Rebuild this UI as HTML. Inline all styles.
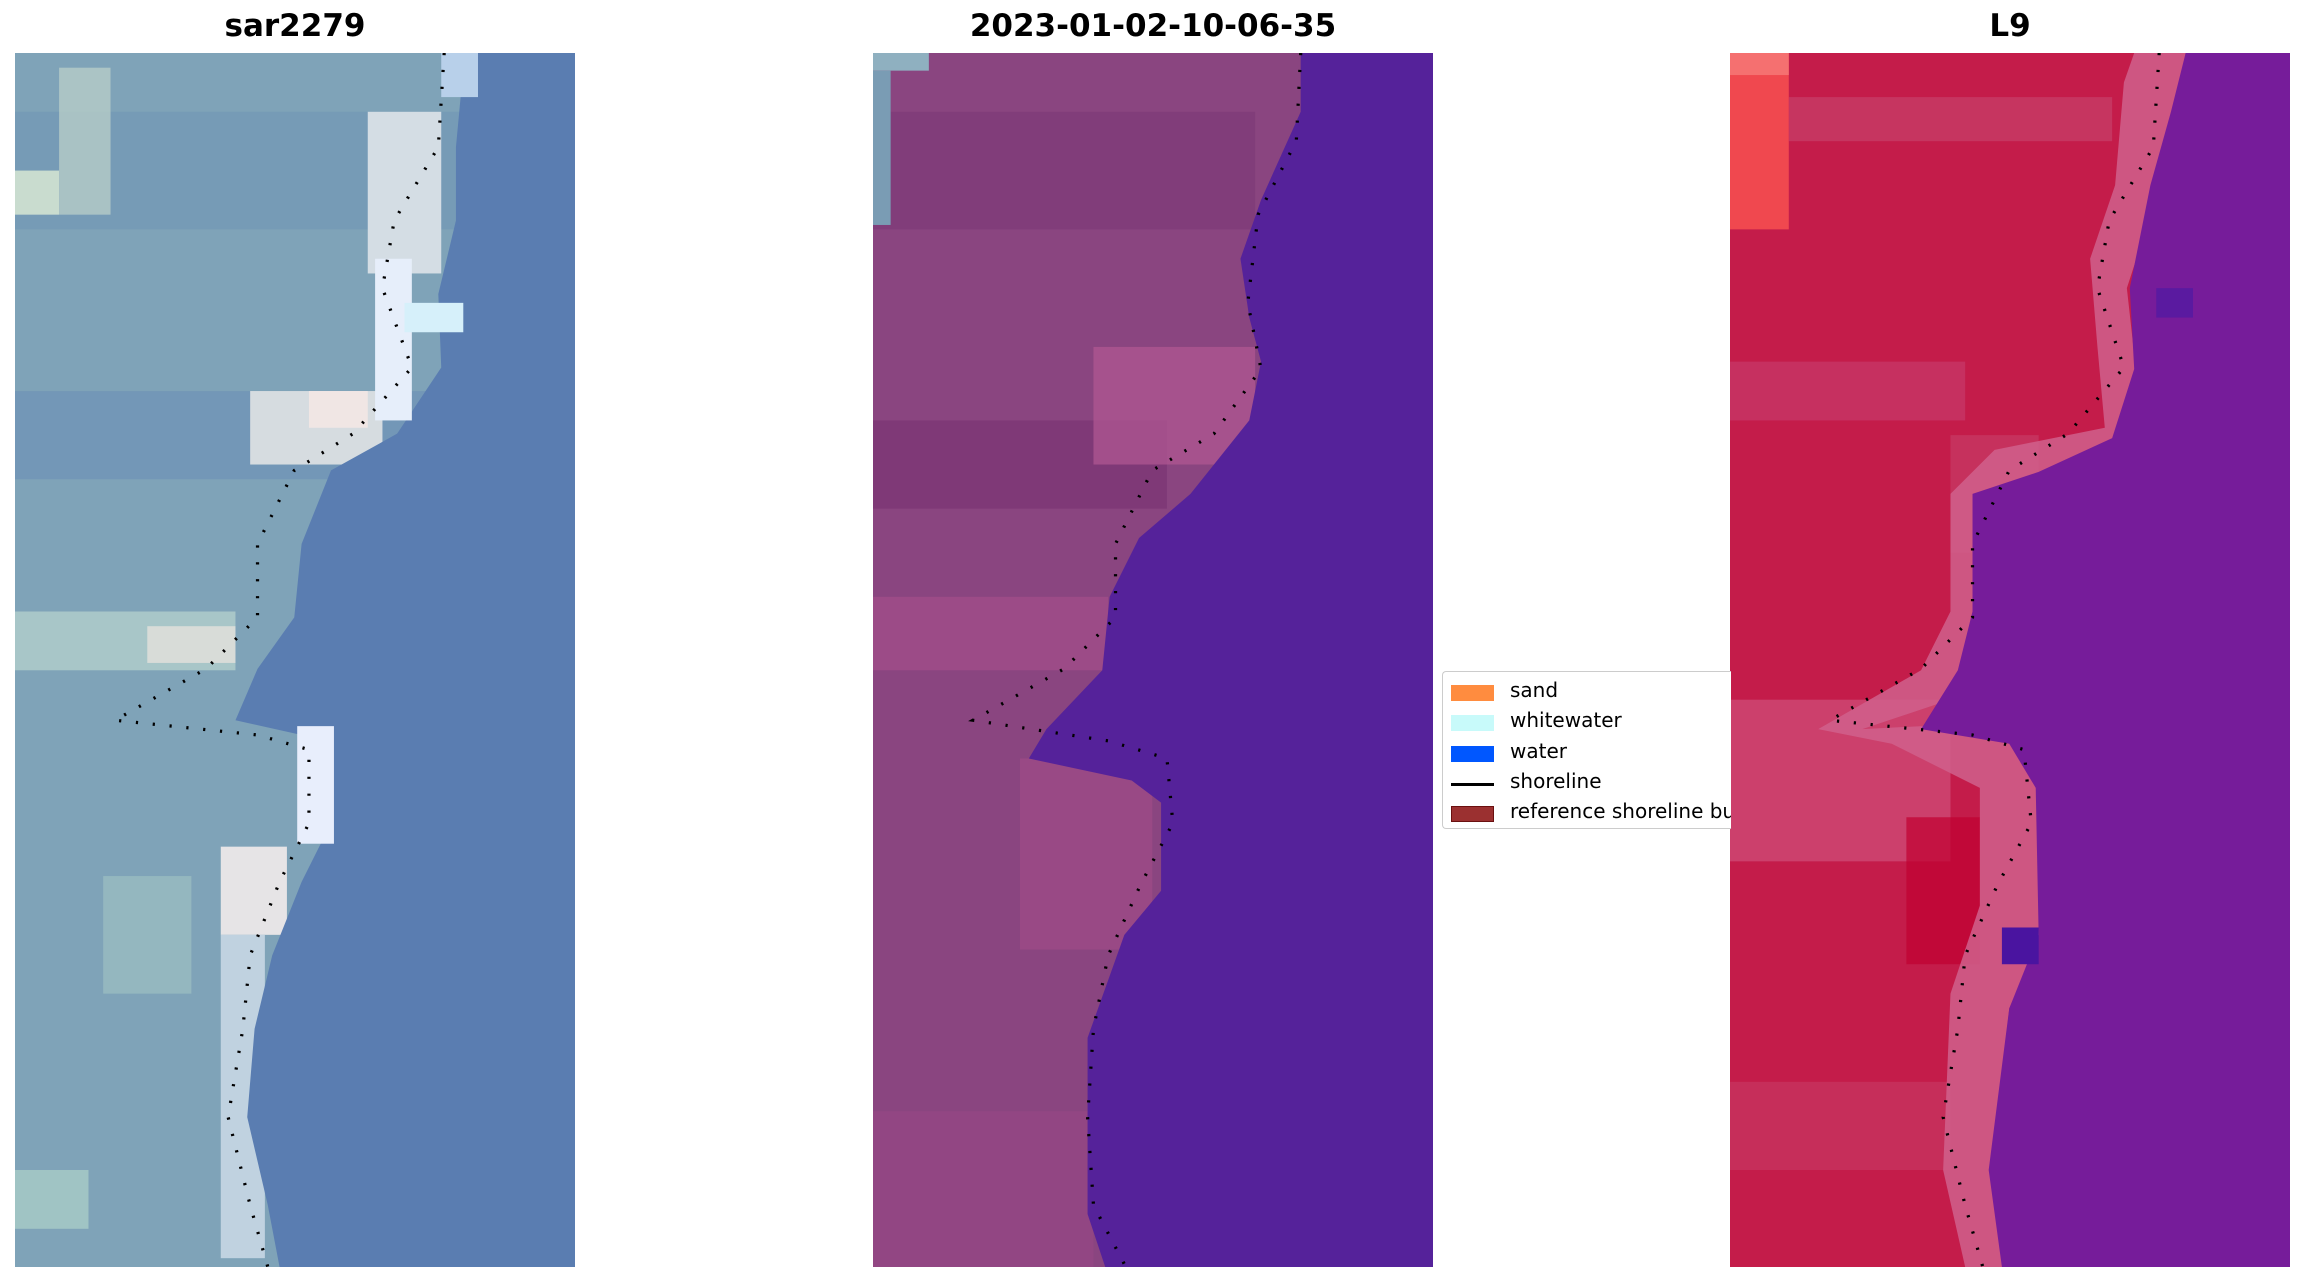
<!DOCTYPE html>
<html><head><meta charset="utf-8"><style>
html,body{margin:0;padding:0;background:#fff;}
body{width:2304px;height:1283px;position:relative;overflow:hidden;font-family:"Liberation Sans","DejaVu Sans",sans-serif;}
.t{position:absolute;top:8px;width:560px;text-align:center;font-weight:bold;font-size:31px;font-family:"DejaVu Sans","Liberation Sans",sans-serif;}
svg.p{position:absolute;top:53px;width:560px;height:1214px;}
.leg{position:absolute;left:1442px;top:671px;width:288px;height:156px;border:1px solid #ccc;border-right:none;border-radius:4px 0 0 4px;background:#fff;font-family:"DejaVu Sans",sans-serif;font-size:20px;overflow:hidden;}
.li{position:absolute;left:8px;height:20px;white-space:nowrap;}
.sw{position:absolute;left:0;top:2px;width:43px;height:16px;}
.lt{position:absolute;left:59px;top:-5px;}
</style></head><body>
<div class="t" style="left:15px">sar2279</div>
<div class="t" style="left:873px">2023-01-02-10-06-35</div>
<div class="t" style="left:1730px">L9</div>

<svg class="p" style="left:15px" viewBox="0 0 381 826" preserveAspectRatio="none">
<rect width="381" height="826" fill="#7fa3b8"/>
<rect x="0" y="40" width="381" height="80" fill="#6f96b4" opacity=".6"/>
<rect x="0" y="230" width="381" height="60" fill="#6a8fb5" opacity=".6"/>
<rect x="0" y="380" width="150" height="40" fill="#a8c6c8"/>
<rect x="90" y="390" width="60" height="25" fill="#d8dcd8"/>
<rect x="0" y="80" width="30" height="30" fill="#c9dccf"/>
<rect x="30" y="10" width="35" height="100" fill="#b6ccc8" opacity=".8"/>
<rect x="160" y="230" width="90" height="50" fill="#d6dce0"/>
<rect x="200" y="230" width="40" height="25" fill="#f0e6e4"/>
<rect x="240" y="40" width="50" height="110" fill="#d4dde4"/>
<rect x="140" y="540" width="45" height="60" fill="#e6e4e6"/>
<rect x="140" y="600" width="30" height="220" fill="#c0d2e0"/>
<rect x="0" y="760" width="50" height="40" fill="#a0c4c4"/>
<rect x="60" y="560" width="60" height="80" fill="#9abcc0" opacity=".8"/>
<polygon fill="#5a7db1" points="296,0 381,0 381,826 180,826 172,784 158,724 163,664 175,614 195,564 215,524 215,474 195,464 150,454 165,419 190,384 195,334 215,284 260,259 290,214 288,164 300,114 300,64 306,0"/>
<rect x="245" y="140" width="25" height="110" fill="#e6eefa"/>
<rect x="265" y="170" width="40" height="20" fill="#d6f0fa"/>
<rect x="192" y="458" width="25" height="80" fill="#e8eefc"/>
<rect x="290" y="0" width="25" height="30" fill="#b8d0ea"/>
<polyline fill="none" stroke="#000" stroke-width="2.2" stroke-dasharray="1.5 10" points="292,0 288,64 258,114 250,160 270,214 230,259 190,284 165,334 165,384 130,419 68,454 165,464 200,474 200,524 180,564 160,614 155,664 145,724 160,784 172,826"/>
</svg>

<svg class="p" style="left:873px" viewBox="0 0 381 826" preserveAspectRatio="none">
<rect width="381" height="826" fill="#8a4580"/>
<rect x="0" y="40" width="260" height="80" fill="#7e3a78" opacity=".7"/>
<rect x="0" y="250" width="200" height="60" fill="#7a3574" opacity=".7"/>
<rect x="150" y="200" width="110" height="80" fill="#ad5590" opacity=".8"/>
<rect x="0" y="370" width="160" height="50" fill="#a04c88" opacity=".8"/>
<rect x="100" y="480" width="90" height="130" fill="#a04c88" opacity=".7"/>
<rect x="0" y="720" width="150" height="106" fill="#984886" opacity=".6"/>
<rect x="0" y="0" width="38" height="12" fill="#8fb0c0"/>
<rect x="0" y="12" width="12" height="105" fill="#7a9cb4"/>
<polygon fill="#55229a" points="291,0 381,0 381,826 158,826 146,790 146,670 171,600 196,570 196,510 176,495 106,480 118,460 156,420 161,370 181,330 216,300 256,250 264,210 256,180 250,140 264,100 291,40"/>
<polyline fill="none" stroke="#000" stroke-width="2.2" stroke-dasharray="1.5 10" points="291,0 288,60 262,110 255,170 264,215 232,259 190,284 165,334 165,384 130,419 68,454 160,468 200,480 204,524 182,566 160,614 150,664 146,724 150,784 172,826"/>
</svg>

<svg class="p" style="left:1730px" viewBox="0 0 381 826" preserveAspectRatio="none">
<rect width="381" height="826" fill="#c41c4a"/>
<rect x="0" y="0" width="40" height="120" fill="#f0484f"/>
<rect x="0" y="0" width="40" height="15" fill="#f57070"/>
<rect x="40" y="30" width="220" height="30" fill="#c8406a" opacity=".7"/>
<rect x="0" y="210" width="160" height="40" fill="#c83e70" opacity=".6"/>
<rect x="0" y="440" width="150" height="110" fill="#d0507a" opacity=".7"/>
<rect x="120" y="520" width="50" height="100" fill="#c00030" opacity=".7"/>
<rect x="0" y="700" width="150" height="60" fill="#c8406a" opacity=".5"/>
<rect x="150" y="260" width="60" height="80" fill="#c8406a" opacity=".6"/>
<polygon fill="#d0608c" opacity=".85" points="275,0 310,0 296,80 270,160 280,250 240,280 190,300 175,350 180,410 150,440 90,460 190,455 210,480 212,600 190,650 178,760 188,826 160,826 145,760 150,640 170,580 170,500 110,470 60,460 130,420 150,380 150,300 180,270 255,255 250,200 245,140 262,90 268,20"/>
<polygon fill="#761c9a" points="310,0 381,0 381,826 185,826 176,760 190,650 210,600 208,500 190,470 130,460 155,420 165,380 165,300 210,285 260,262 275,215 272,160 286,90 300,40"/>
<rect x="290" y="160" width="25" height="20" fill="#5a1aa0"/>
<rect x="185" y="595" width="25" height="25" fill="#4a14a0"/>
<polyline fill="none" stroke="#000" stroke-width="2.2" stroke-dasharray="1.5 10" points="292,0 288,64 258,114 250,160 268,214 230,259 190,284 165,334 165,384 130,419 68,454 165,464 200,474 205,524 182,566 160,614 155,664 145,724 160,784 172,826"/>
</svg>

<div class="leg">
<div class="li" style="top:11px"><div class="sw" style="background:#ff8c3f"></div><div class="lt">sand</div></div>
<div class="li" style="top:41px"><div class="sw" style="background:#c8fafa"></div><div class="lt">whitewater</div></div>
<div class="li" style="top:72px"><div class="sw" style="background:#0057ff"></div><div class="lt">water</div></div>
<div class="li" style="top:102px"><div class="sw" style="background:#000;height:3px;top:9px"></div><div class="lt">shoreline</div></div>
<div class="li" style="top:132px"><div class="sw" style="background:#9b3030;border:1px solid #6a1010;width:41px;height:14px"></div><div class="lt">reference shoreline buffer</div></div>
</div>
</body></html>
